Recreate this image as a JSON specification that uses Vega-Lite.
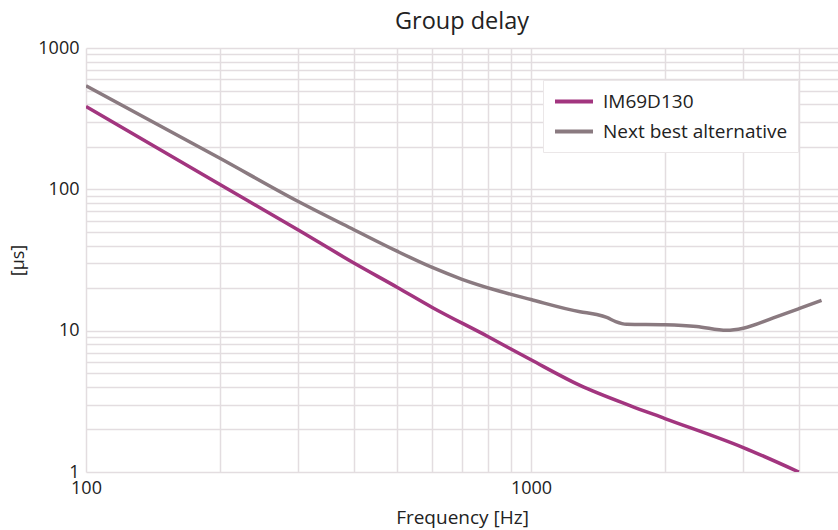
{
  "$schema": "https://vega.github.io/schema/vega-lite/v6.json",
  "width": 752,
  "height": 424,
  "autosize": {"type": "none"},
  "padding": {"left": 86, "top": 48, "right": 0, "bottom": 58},
  "background": "white",
  "title": {"text": "Group delay", "fontSize": 23.5, "font": "Open Sans", "fontWeight": "normal", "color": "#222222", "offset": 6, "anchor": "middle"},
  "config": {
    "view": {"stroke": null},
    "font": "Open Sans"
  },
  "data": {
    "values": [
      {"series": "IM69D130", "f": 100, "v": 385},
      {"series": "IM69D130", "f": 200, "v": 108},
      {"series": "IM69D130", "f": 300, "v": 51.5},
      {"series": "IM69D130", "f": 400, "v": 30.1},
      {"series": "IM69D130", "f": 500, "v": 20.3},
      {"series": "IM69D130", "f": 600, "v": 14.6},
      {"series": "IM69D130", "f": 800, "v": 9.1},
      {"series": "IM69D130", "f": 1000, "v": 6.22},
      {"series": "IM69D130", "f": 1289, "v": 4.1},
      {"series": "IM69D130", "f": 1669, "v": 2.95},
      {"series": "IM69D130", "f": 2000, "v": 2.39},
      {"series": "IM69D130", "f": 3000, "v": 1.49},
      {"series": "IM69D130", "f": 4000, "v": 1.0},
      {"series": "Next best alternative", "f": 100, "v": 540},
      {"series": "Next best alternative", "f": 200, "v": 166},
      {"series": "Next best alternative", "f": 300, "v": 82},
      {"series": "Next best alternative", "f": 400, "v": 51.8},
      {"series": "Next best alternative", "f": 500, "v": 36.5},
      {"series": "Next best alternative", "f": 600, "v": 28.0},
      {"series": "Next best alternative", "f": 700, "v": 23.1},
      {"series": "Next best alternative", "f": 851, "v": 19.0},
      {"series": "Next best alternative", "f": 1000, "v": 16.6},
      {"series": "Next best alternative", "f": 1289, "v": 13.6},
      {"series": "Next best alternative", "f": 1405, "v": 13.0},
      {"series": "Next best alternative", "f": 1480, "v": 12.4},
      {"series": "Next best alternative", "f": 1550, "v": 11.6},
      {"series": "Next best alternative", "f": 1641, "v": 11.1},
      {"series": "Next best alternative", "f": 2000, "v": 11.0},
      {"series": "Next best alternative", "f": 2356, "v": 10.7},
      {"series": "Next best alternative", "f": 2753, "v": 10.05},
      {"series": "Next best alternative", "f": 3000, "v": 10.4},
      {"series": "Next best alternative", "f": 3505, "v": 12.3},
      {"series": "Next best alternative", "f": 4000, "v": 14.3},
      {"series": "Next best alternative", "f": 4498, "v": 16.4}
    ]
  },
  "mark": {"type": "line", "strokeWidth": 3.5, "interpolate": "monotone", "clip": true},
  "encoding": {
    "x": {
      "field": "f", "type": "quantitative",
      "scale": {"type": "log", "domain": [100, 4898], "nice": false},
      "axis": {
        "title": "Frequency [Hz]",
        "values": [100, 200, 300, 400, 500, 600, 700, 800, 900, 1000, 2000, 3000, 4000],
        "labelExpr": "datum.value == 100 || datum.value == 1000 ? datum.label : ''",
        "format": "d",
        "grid": true, "gridColor": "#e3dde0", "gridWidth": 1.5,
        "domain": false, "ticks": false,
        "labelFontSize": 18, "labelColor": "#222222", "labelPadding": 7,
        "titleFontSize": 19, "titleFontWeight": "normal", "titleColor": "#222222", "titlePadding": 11,
        "labelFlush": false, "labelOverlap": false
      }
    },
    "y": {
      "field": "v", "type": "quantitative",
      "scale": {"type": "log", "domain": [1, 1000], "nice": false},
      "axis": {
        "title": "[µs]",
        "values": [1, 2, 3, 4, 5, 6, 7, 8, 9, 10, 20, 30, 40, 50, 60, 70, 80, 90, 100, 200, 300, 400, 500, 600, 700, 800, 900, 1000],
        "labelExpr": "datum.value == 1 || datum.value == 10 || datum.value == 100 || datum.value == 1000 ? datum.label : ''",
        "format": "d",
        "grid": true, "gridColor": "#e3dde0", "gridWidth": 1.5,
        "domain": false, "ticks": false,
        "labelFontSize": 18, "labelColor": "#222222", "labelPadding": 7,
        "titleFontSize": 18, "titleFontWeight": "normal", "titleColor": "#222222", "titlePadding": 10,
        "labelFlush": false, "labelOverlap": false
      }
    },
    "color": {
      "field": "series", "type": "nominal",
      "scale": {"domain": ["IM69D130", "Next best alternative"], "range": ["#a2357f", "#8a7a80"]},
      "legend": {
        "title": null,
        "orient": "none", "legendX": 457, "legendY": 32,
        "symbolType": "M-1,0H3", "symbolStrokeWidth": 4, "symbolSize": 361,
        "labelFontSize": 19, "labelColor": "#222222", "labelOffset": 27, "labelLimit": 0,
        "fillColor": "white", "strokeColor": "#ebe7e8", "padding": 10,
        "rowPadding": 8
      }
    }
  }
}
